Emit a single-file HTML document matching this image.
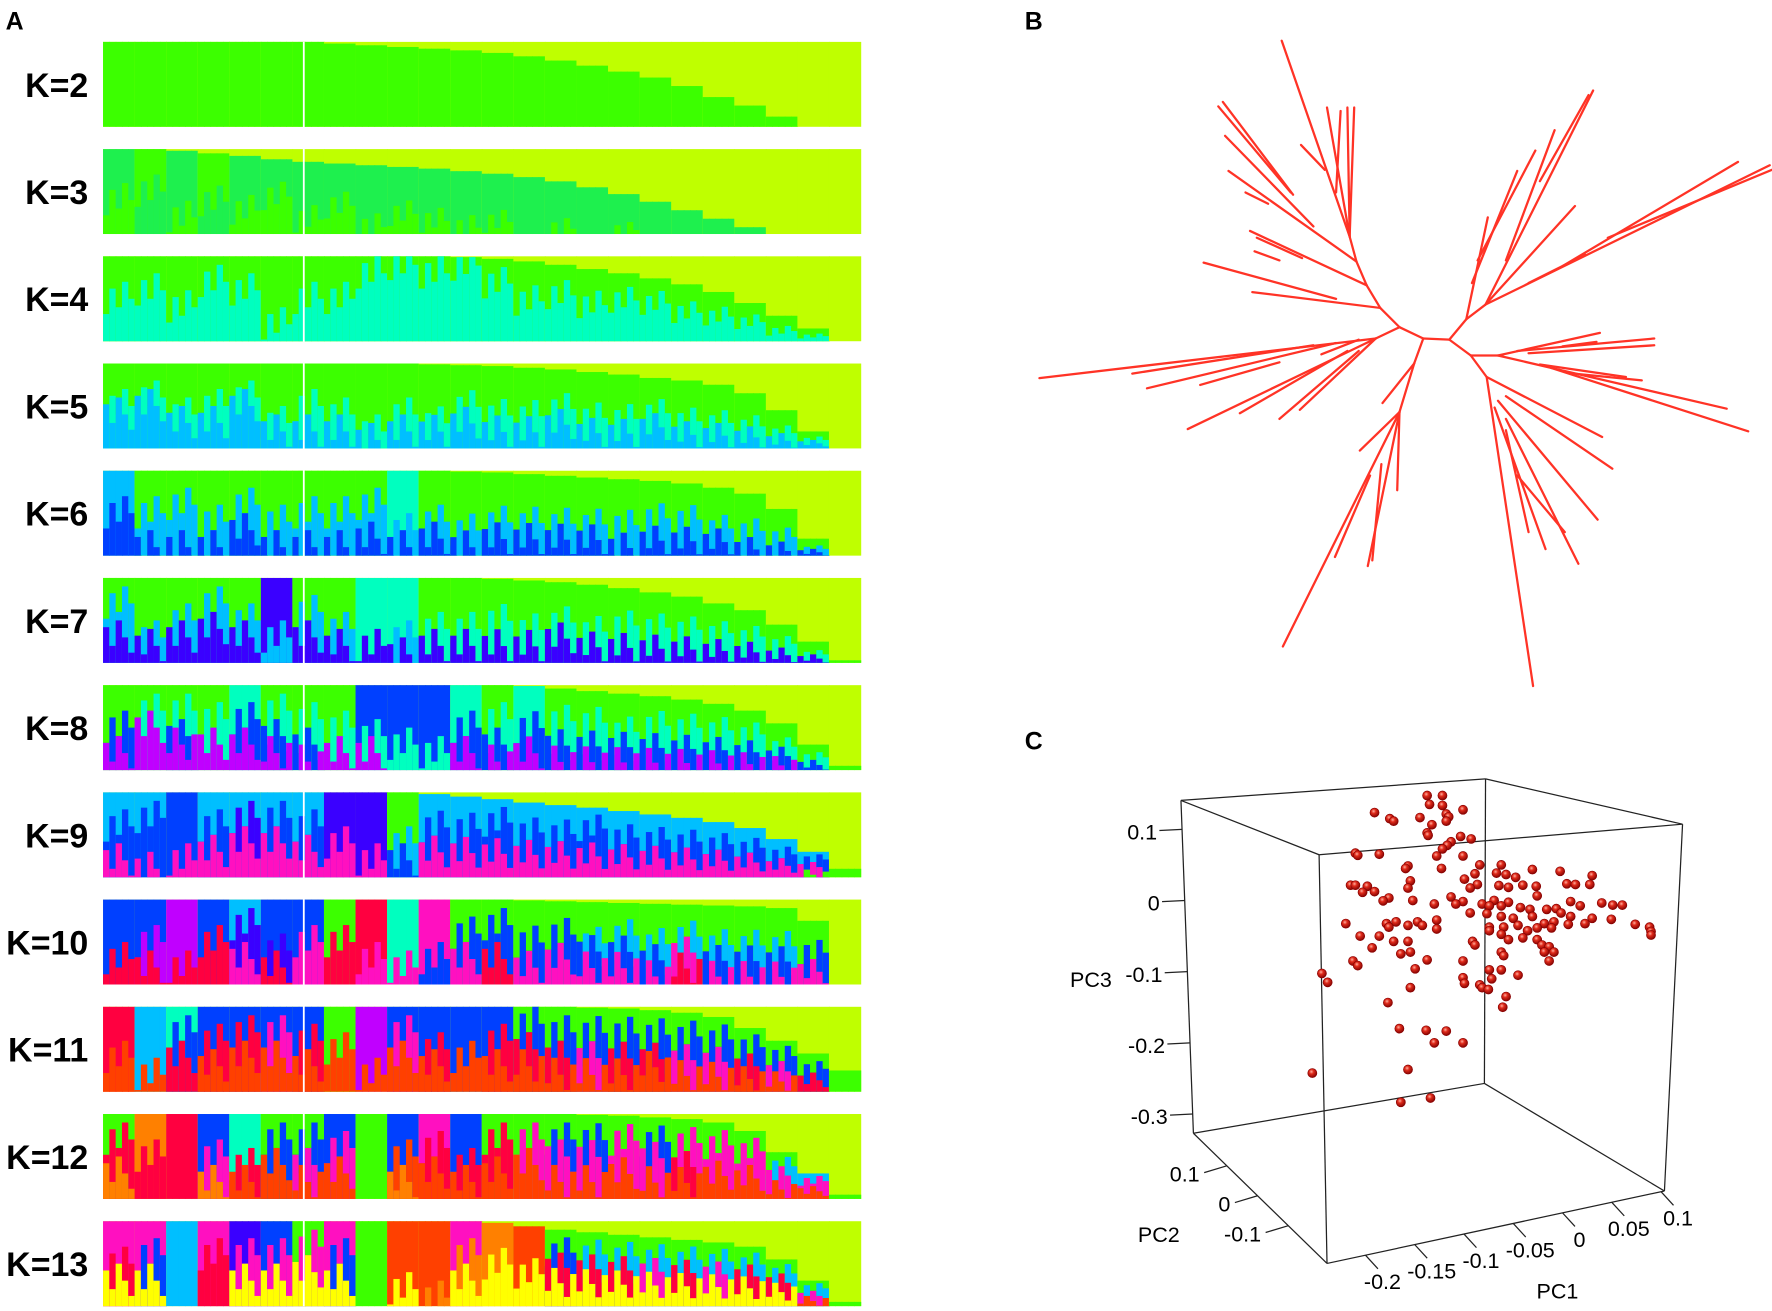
<!DOCTYPE html>
<html><head><meta charset="utf-8"><style>
html,body{margin:0;padding:0;background:#fff;}
svg{display:block;}
text{font-family:"Liberation Sans",sans-serif;}
</style></head><body>
<svg id="fig" xmlns="http://www.w3.org/2000/svg" width="1772" height="1311" viewBox="0 0 1565 1158" preserveAspectRatio="none">
<defs>
<radialGradient id="ball" cx="0.4" cy="0.35" r="0.7">
<stop offset="0" stop-color="#ffb0a0"/><stop offset="0.35" stop-color="#e02a1a"/><stop offset="1" stop-color="#7a0000"/>
</radialGradient>
</defs>
<text x="5" y="26" font-size="22" font-weight="bold">A</text>
<text x="905" y="26" font-size="22" font-weight="bold">B</text>
<text x="905" y="662" font-size="22" font-weight="bold">C</text>
<g id="structure"></g>
<g id="tree" stroke="#ff3326" stroke-width="2" stroke-linecap="round"></g>
<g id="pca"></g>
</svg>
<script>
// ---------- Panel A: structure data ----------
const kLabels = ["K=2","K=3","K=4","K=5","K=6","K=7","K=8","K=9","K=10","K=11","K=12","K=13"];
const limeTop = [
 [0,0,0,0,0,0,0,.02,.04,.06,.08,.1,.13,.17,.22,.28,.35,.42,.52,.65,.75,.88,1,1],
 [0,0,.02,.05,.08,.12,.15,.17,.19,.21,.23,.26,.29,.33,.38,.45,.53,.62,.72,.82,.92,1,1,1],
 [0,0,0,0,0,0,0,0,0,0,0,.01,.03,.06,.1,.15,.2,.26,.33,.42,.55,.7,.85,1],
 [0,0,0,0,0,0,0,0,0,0,.01,.02,.03,.05,.07,.1,.13,.17,.2,.25,.35,.55,.8,1],
 [0,0,0,0,0,0,0,0,0,0,0,.01,.02,.04,.06,.08,.1,.12,.15,.2,.27,.45,.8,1],
 [0,0,0,0,0,0,0,0,0,0,0,0,.01,.03,.05,.08,.12,.17,.22,.3,.38,.55,.75,.97],
 [0,0,0,0,0,0,0,0,0,0,0,0,0,.01,.04,.07,.1,.13,.17,.22,.3,.45,.7,.95],
 [0,0,0,0,0,0,0,0,0,0,.02,.05,.08,.12,.15,.18,.22,.26,.3,.35,.42,.55,.7,.9],
 [0,0,0,0,0,0,0,0,0,0,0,0,0,.01,.02,.03,.04,.05,.06,.07,.08,.1,.25,1],
 [0,0,0,0,0,0,0,0,0,0,0,0,0,0,0,.01,.02,.04,.07,.12,.25,.4,.55,.75],
 [0,0,0,0,0,0,0,0,0,0,0,0,0,0,0,.01,.02,.04,.06,.1,.2,.45,.7,.95],
 [0,0,0,0,0,0,0,0,0,0,0,0,.02,.06,.1,.13,.16,.19,.22,.25,.3,.45,.7,.95]
];
const blockMix = [
 ["G10","G10","G10","G10","G10","G10","G10","G10","G10","G10","G10","G10","G10","G10","G10","G10","G10","G10","G10","G10","G10","G10","G10","G10"],
 ["E6G4","G5E5","E8G2","G6E4","E7G3","E5G5","E8G2","E6G4","E9G1","E7G3","E8G2","E9G1","E8G2","E10","E9G1","E10","E9G1","E10","E10","E10","E10","E10","E10","E10"],
 ["G5T5","G4T6","G6T4","G3T7","G4T6","G8T2","G5T5","G5T5","G2T8","G1T9","G2T8","G1T9","G3T7","G5T5","G4T6","G5T5","G4T6","G4T6","G5T5","G5T5","G5T5","G6T4","G6T4","G10"],
 ["G5T1S4","G4T1S5","G6T1S3","G5T2S3","G4T1S5","G7T1S2","G5T3S2","G6T2S2","G8T1S1","G6T2S2","G7T1S2","G5T2S3","G6T2S2","G6T2S2","G5T2S3","G6T2S2","G6T2S2","G5T2S3","G6T2S2","G6T2S2","G6T2S2","G6T2S2","G5T2S3","G10"],
 ["S5B5","G5S4B1","G4S5B1","G6S3B1","G4S3B3","G6S3B1","G5S4B1","G5S4B1","G4S4B2","T7S2B1","G6S2B2","G7S2B1","G6S2B2","G6S2B2","G6S2B2","G6S2B2","G6S3B1","G5S3B2","G5S3B2","G6S2B2","G6S3B1","G6S3B1","G6S2B2","G10"],
 ["G3S4I3","G7S1I2","G5S2I3","G3S3I4","G5S2I3","I7S3","G4S3I3","G6S2I2","T8I2","T7S2I1","G6T2I2","G6T2I2","G5T3I2","G6T2I2","G5T2I3","G6T2I2","G5T3I2","G5T3I2","G5T3I2","G5T3I2","G5T3I2","G5T3I2","G6T2I2","G10"],
 ["G5B3P2","G3T2P5","G3T3B1P3","G4T3P3","T4B3P3","G3T3B2P2","G4T3B2P1","G5T3P2","B6T2P2","B7T3","B8T2","T5B3P2","G4T3B2P1","T5B3P2","G4T3B2P1","G4T3B2P1","G5T2B2P1","G4T3B2P1","G4T3B2P1","G4T3B2P1","G4T3B2P1","G5T2B2P1","G5T3B2","G10"],
 ["S4B4M2","S3B6M1","B8M2","S4B3M3","S3I3M4","S3B3M4","S4B3M3","I6M4","I8M2","G6S2B2","S4B3M3","S4B3M3","S3B4M3","S4B3M3","S4B3M3","S3B4M3","S4B3M3","S4B3M3","S4B3M3","S4B3M3","S4B3M3","S4B3M3","S3B3M3G1","G10"],
 ["B7R3","B5P3R2","P8R2","B5R5","S3I4M3","B6I2R2","B5M5","G5R5","R7M3","T8M2","M7B3","G4B3M3","G3B4R3","G5B3M2","G4B3M3","G5S1B2M2","G4S2B2M2","G5S2B2M1","G4S2M2R2","G5S2B2M1","G5S2B2M1","G5S2B2M1","G5B3M2","G10"],
 ["R6O4","S8O2","T3B3R4","B4R3O3","B3R3O4","B3M3O4","B4R3O3","G5O5","P8O2","B3M3O4","B5R2O3","B6O4","B4R3O3","G2B3R2O3","G3B3R2O2","G3B3M2O2","G3B3R2O2","G3B3R1O3","G3B3M2O2","G3B3M2O2","G3B3R2O2","G3B3M2O2","G4B3R3","G10"],
 ["G3R4N3","N5R5","R10","B5M3N2","T6R2O2","G3B3O4","G3B3M2O2","B4M3O3","G10","B5O3N2","M4R3O3","B6R2O2","G3R4O3","G3M3O4","G3B2M3O2","G3B2M3O2","G3M4O3","G3B2M3O2","G3M3R2O2","G3M4O3","G3M4O3","G3S2M3O2","S3M4O3","G10"],
 ["M5R2Y3","M4B3Y3","S10","M4R6","I4M3Y3","B4M3Y3","G3M3Y4","M4B3Y3","G10","O8Y2","O9N1","M4N3Y3","N5Y5","O6Y4","G3B2R2Y3","G3S2R2Y3","G3S2R2Y3","G3S2M2Y3","G3S2R2Y3","G3S2M2Y3","G3S2R2Y3","G3S2R2Y3","G3S3M2O2","G10"]
];
const palette = {L:"#bfff00",G:"#3cff00",E:"#1ef04e",T:"#00ffbf",S:"#00bfff",B:"#0040ff",I:"#3a00ff",P:"#c000ff",M:"#ff10c0",R:"#ff0040",O:"#ff4000",N:"#ff8000",Y:"#ffff00"};

// ---------- Panel B: tree edges ----------
const treeEdges = [
 [1236,289,1257,299],[1257,299,1280,300],
 [1236,289,1219,272],[1219,272,1207,252],[1207,252,1198,231],[1198,231,1192,209],
 [1219,272,1106,258],[1180,264,1063,232],[1207,252,1104,204],[1150,228,1110,210],[1198,231,1085,151],[1160,200,1082,120],[1140,170,1076,94],[1142,172,1080,90],[1192,209,1132,36],[1170,150,1149,128],[1192,209,1172,95],[1192,209,1190,95],[1192,209,1196,95],[1180,170,1184,98],[1130,230,1108,222],[1120,180,1100,170],
 [1280,300,1295,282],[1295,282,1312,269],
 [1295,282,1314,192],[1300,250,1340,151],[1305,230,1356,133],[1312,269,1391,182],[1312,269,1407,80],[1330,230,1373,115],[1312,269,1563,146],[1380,235,1535,143],[1420,210,1565,150],[1350,250,1400,225],[1360,160,1403,84],
 [1280,300,1299,314],[1299,314,1323,314],[1323,314,1413,294],[1340,310,1461,299],[1350,312,1461,305],[1323,314,1525,361],[1370,325,1544,381],[1360,322,1436,333],[1390,330,1450,336],[1380,306,1410,302],
 [1299,314,1313,333],[1313,333,1415,386],[1330,350,1424,414],[1323,354,1411,459],[1330,370,1394,498],[1320,360,1365,485],[1313,333,1354,606],[1330,380,1350,470],[1340,420,1382,470],
 [1257,299,1249,321],[1249,321,1221,356],[1249,321,1236,364],[1236,364,1201,398],[1236,364,1234,433],[1236,364,1208,500],[1236,364,1133,571],[1210,420,1179,492],[1220,410,1212,495],
 [1236,289,1215,299],[1215,299,918,334],[1180,303,1013,343],[1215,299,1049,379],[1190,310,1095,365],[1215,299,1148,362],[1200,300,1167,313],[1160,305,1000,330],[1130,320,1060,340],[1200,310,1130,370]
];

// ---------- Panel C: PCA data ----------
const pc1 = [-.135,-.119,-.1325,-.119,-.19,-.0975,-.174,-.17,-.1425,-.115,-.1125,-.13,-.115,-.135,-.134,-.1,-.089,-.11,-.114,-.119,-.21,-.2075,-.185,-.125,-.0975,-.155,-.1575,-.12,-.08,-.0575,-.025,.004,.0375,-.0625,-.0525,-.085,-.0425,-.096,-.1525,-.215,-.21,-.1975,-.155,-.0825,-.09,-.06,-.05,-.035,-.021,.011,.02,.035,-.2025,-.19,-.175,-.181,-.15,-.11,-.0975,-.065,-.05,-.02,.015,.0475,.059,.069,-.1275,-.105,-.0775,-.07,-.0575,-.0375,-.0275,-.01,0,.025,.005,.015,.0375,.0575,-.22,-.1775,-.1675,-.145,-.125,-.09,-.0725,-.0575,-.045,-.025,-.0125,-.0025,.0125,.03,.0825,.0975,.099,.099,-.175,-.155,-.14,-.125,-.07,-.055,-.04,-.03,-.02,-.005,-.205,-.185,-.155,-.0875,-.07,-.0575,-.05,-.035,-.02,-.015,-.0075,-.0025,-.0125,-.17,-.1925,-.1525,-.1625,-.085,-.0575,-.055,-.0075,-.2125,-.2075,-.135,-.0975,-.1475,-.07,-.0575,-.245,-.239,-.04,-.0975,-.096,-.08,-.0775,-.071,-.0675,-.1525,-.0525,-.056,-.176,-.164,-.136,-.115,-.1275,-.0975,-.155,-.255,-.1625,-.1315];
const pc3 = [.1475,.1475,.135,.1335,.1235,.1275,.115,.1115,.1165,.1215,.1175,.1065,.1115,.095,.0915,.09,.0865,.0825,.0775,.0725,.0665,.0635,.065,.0625,.0625,.0485,.045,.045,.05,.05,.0435,.041,.035,.0385,.0365,.0375,.0325,.03,.0275,.0215,.0215,.02,.0175,.0225,.0175,.021,.0185,.0215,.02,.0235,.0225,.0225,.0115,.0125,.0035,-.0005,0,.005,-.0015,0,-.0025,.0065,-.0015,-.0035,-.0065,-.0065,-.005,-.005,-.005,-.0075,-.0075,-.01,-.0125,-.0125,-.0115,-.0075,-.0175,-.0225,-.025,-.0265,-.0325,-.0325,-.03,-.03,-.0275,-.0175,-.0185,-.0225,-.025,-.0225,-.0325,-.03,-.0335,-.0325,-.0335,-.0375,-.0435,-.0485,-.0375,-.035,-.035,-.04,-.0375,-.0375,-.035,-.0425,-.0385,-.0385,-.05,-.05,-.0575,-.0575,-.0425,-.0475,-.055,-.0525,-.055,-.0625,-.065,-.0725,-.0725,-.0575,-.0665,-.0725,-.075,-.0625,-.0725,-.0775,-.085,-.085,-.0915,-.0835,-.085,-.096,-.0975,-.0975,-.1025,-.115,-.105,-.1085,-.1165,-.1185,-.1225,-.125,-.11,-.1225,-.135,-.15,-.1435,-.18,-.1825,-.1835,-.2,-.2,-.2375,-.2425,-.2835,-.2775];
const pc3Ticks = [0.1,0,-0.1,-0.2,-0.3];
const pc3TickLabels = ["0.1","0","-0.1","-0.2","-0.3"];
const pc2Ticks = [0.1,0,-0.1];
const pc2TickLabels = ["0.1","0","-0.1"];
const pc1Ticks = [-0.2,-0.15,-0.1,-0.05,0,0.05,0.1];
const pc1TickLabels = ["-0.2","-0.15","-0.1","-0.05","0","0.05","0.1"];

const NS = "http://www.w3.org/2000/svg";
function mk(tag, attrs, parent){ const e=document.createElementNS(NS,tag); for(const k in attrs) e.setAttribute(k,attrs[k]); parent.appendChild(e); return e; }

// ---- draw structure ----
const gA = document.getElementById('structure');
const barX0 = 91, barW = 669, rowY0 = 37, rowPitch = 94.7, rowH = 75;
const nBlocks = 24, bw = barW / nBlocks;
const sub = 5, stripeShift = [0, 0.18, -0.12, 0.1, -0.2];
function rowY(r){ return rowY0 + r * rowPitch; }
function blockX(i){ return barX0 + i * bw; }
kLabels.forEach((lab, r) => {
  const y0 = rowY(r);
  const rg = mk('g', {}, gA);
  
  
  const t = mk('text', {x: 78, y: y0 + rowH/2 + 11, 'font-size': 30, 'font-weight': 'bold', 'text-anchor': 'end'}, rg);
  t.textContent = lab;
  
  
  for (let i = 0; i < nBlocks; i++) {
    const x = blockX(i);
    const topH = limeTop[r][i] * rowH;
    const restH = rowH - topH;
    const lime = mk('rect', {x: x, y: y0, width: bw + 0.6, height: rowH, fill: palette.L}, rg);
    
    
    const parts = [...blockMix[r][i].matchAll(/([A-Z])(\d+)/g)];
    const sw = bw / sub;
    for (let s = 0; s < sub; s++) {
      let yy = y0 + topH;
      parts.forEach((p, pi) => {
        let start = yy;
        if (pi > 0) start = Math.min(y0 + rowH, Math.max(y0 + topH, yy + stripeShift[(s + pi) % sub] * restH));
        const seg = mk('rect', {x: x + s*sw, y: start, width: sw + 0.6, height: Math.max(0, y0 + rowH - start), fill: palette[p[1]]}, rg);
        
        
        yy += restH * (+p[2]) / 10;
      });
    }
  }
});
const sep = mk('rect', {x: 267.5, y: rowY0, width: 1.6, height: rowY(11) + rowH - rowY0, fill: '#ffffff'}, gA);



// ---- draw tree ----
const gB = document.getElementById('tree');
treeEdges.forEach(e => {
  const l = mk('line', {x1: e[0], y1: e[1], x2: e[2], y2: e[3]}, gB);
  
  
});

// ---- draw PCA ----
const gC = document.getElementById('pca');
function sx(v){ return 1374.5 + 845 * v; }
function sy(v){ return 795.4 - 628.6 * v; }
const C = {btl:[1043,707], btr:[1312,688], ftr:[1486,728], ftl:[1165,755], fbl:[1172,1116], fbr:[1470,1052], bbl:[1054,1001], bbr:[1311,957]};
const boxEdges = [["btl","btr"],["btr","ftr"],["ftr","ftl"],["ftl","btl"],["bbl","bbr"],["bbr","fbr"],["fbr","fbl"],["fbl","bbl"],["btl","bbl"],["btr","bbr"],["ftr","fbr"],["ftl","fbl"]];
boxEdges.forEach(([a,b]) => {
  const l = mk('line', {x1: C[a][0], y1: C[a][1], x2: C[b][0], y2: C[b][1], stroke: '#222', 'stroke-width': 1.1}, gC);
  
  
});
pc3Ticks.forEach((v, i) => {
  const y = sy(v);
  const ex = 1043 + (y - 707) * (11 / 294);
  const l = mk('line', {x1: ex - 20, y1: y + 1, x2: ex, y2: y, stroke: '#222', 'stroke-width': 1.1}, gC);
  
  
  const t = mk('text', {x: ex - 22, y: y + 9, 'font-size': 19, 'text-anchor': 'end'}, gC);
  t.textContent = pc3TickLabels[i];
  
  
});
pc2Ticks.forEach((v, i) => {
  const tt = 0.48 - 2.3 * v;
  const px = C.bbl[0] + (C.fbl[0] - C.bbl[0]) * tt, py = C.bbl[1] + (C.fbl[1] - C.bbl[1]) * tt;
  const l = mk('line', {x1: px, y1: py, x2: px - 20, y2: py + 6, stroke: '#222', 'stroke-width': 1.1}, gC);
  
  
  const t = mk('text', {x: px - 24, y: py + 14, 'font-size': 19, 'text-anchor': 'end'}, gC);
  t.textContent = pc2TickLabels[i];
  
  
});
pc1Ticks.forEach((v, i) => {
  const tt = 0.114 + (v + 0.2) / 0.3 * 0.876;
  const px = C.fbl[0] + (C.fbr[0] - C.fbl[0]) * tt, py = C.fbl[1] + (C.fbr[1] - C.fbl[1]) * tt;
  const l = mk('line', {x1: px, y1: py, x2: px + 11, y2: py + 12, stroke: '#222', 'stroke-width': 1.1}, gC);
  
  
  const t = mk('text', {x: px + 15, y: py + 30, 'font-size': 19, 'text-anchor': 'middle'}, gC);
  t.textContent = pc1TickLabels[i];
  
  
});
const ax = [["PC3",945,872,"pc3-axis-title"],["PC2",1005,1097,"pc2-axis-title"],["PC1",1357,1147,"pc1-axis-title"]];
ax.forEach(a => {
  const t = mk('text', {x: a[1], y: a[2], 'font-size': 19}, gC);
  t.textContent = a[0];
  
  
});
pc1.forEach((v, i) => {
  const c = mk('circle', {cx: sx(v), cy: sy(pc3[i]), r: 4, fill: 'url(#ball)', stroke: '#8a0000', 'stroke-width': 0.6}, gC);
  
  
});
</script>
</body></html>
